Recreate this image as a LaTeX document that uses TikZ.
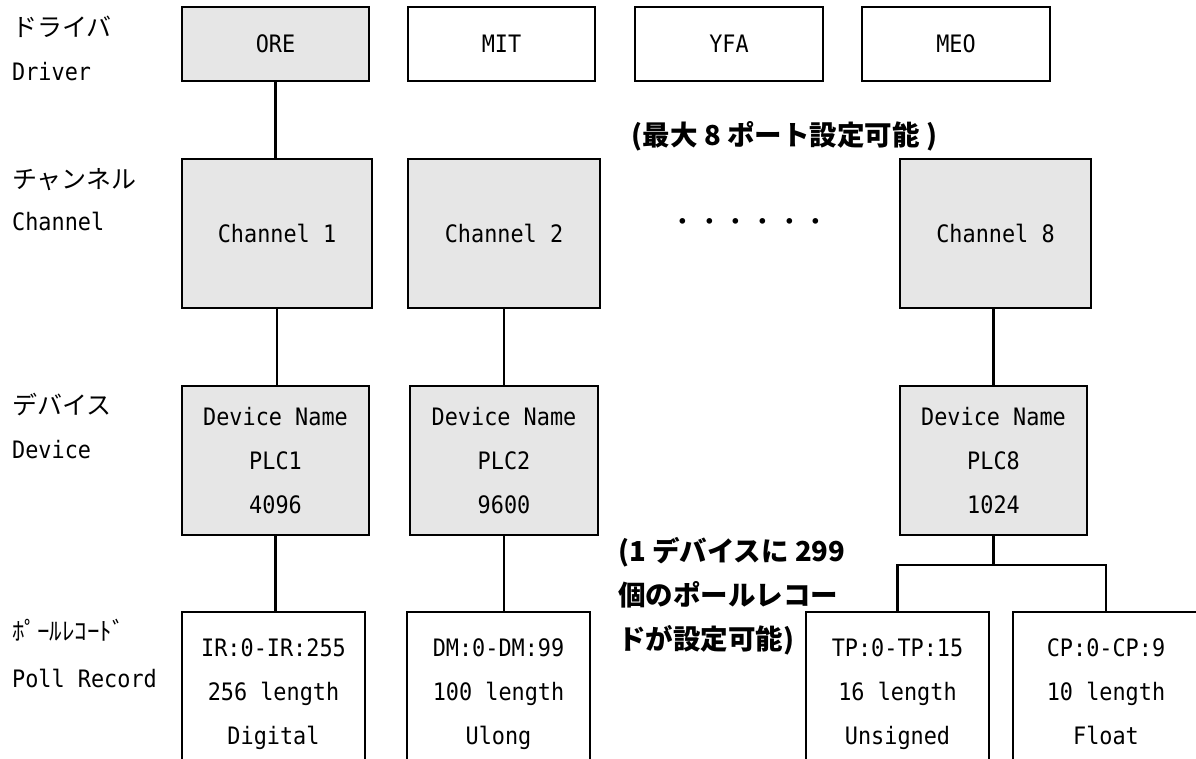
\documentclass[tikz,border=0pt]{standalone}
\usepackage{fontspec}
\newfontfamily\monofont[FakeStretch=0.91]{DejaVu Sans Mono}
\newfontfamily\jpfont{Noto Sans CJK JP}
\definecolor{boxgray}{HTML}{E6E6E6}
\tikzset{
  box/.style={draw=black, line width=2.8pt, fill=boxgray, inner sep=0pt, align=center,
    font=\monofont\fontsize{24}{44}\selectfont},
  wbox/.style={box, fill=white},
  conn/.style={draw=black, line width=2.6pt},
  jplabel/.style={anchor=west, inner sep=0pt, font=\jpfont\fontsize{25}{30}\selectfont},
  enlabel/.style={anchor=west, inner sep=0pt, font=\monofont\fontsize{24}{30}\selectfont},
  note/.style={inner sep=0pt, font=\jpfont\bfseries\fontsize{27.5}{44}\selectfont}
}
\begin{document}
\begin{tikzpicture}[x=1pt, y=-1pt]
\useasboundingbox (0,0) rectangle (1196,758);
\clip (0,0) rectangle (1196,758);
\fill[white] (0,0) rectangle (1196,758);

% row labels
\node[jplabel] (l1j) at (12,27) {ドライバ};
\node[enlabel] (l1e) at (12,72) {Driver};
\node[jplabel] (l2j) at (12,180) {チャンネル};
\node[enlabel] (l2e) at (12,221) {Channel};
\node[jplabel] (l3j) at (12,405) {デバイス};
\node[enlabel] (l3e) at (12,450) {Device};
\node[jplabel] (l4j) at (12,630) {ﾎﾟｰﾙﾚｺｰﾄﾞ};
\node[enlabel] (l4e) at (12,678) {Poll Record};

% driver row
\node[box, minimum width=187pt, minimum height=74pt] (ore) at (275.5,44) {ORE};
\node[wbox, minimum width=187pt, minimum height=74pt] (mit) at (501.5,44) {MIT};
\node[wbox, minimum width=188pt, minimum height=74pt] (yfa) at (729,44) {YFA};
\node[wbox, minimum width=188pt, minimum height=74pt] (meo) at (956,44) {MEO};

% channel row
\node[box, minimum width=190pt, minimum height=149pt] (ch1) at (277,233.5) {Channel 1};
\node[box, minimum width=192pt, minimum height=149pt] (ch2) at (504,233.5) {Channel 2};
\node[box, minimum width=191pt, minimum height=149pt] (ch8) at (995.5,233.5) {Channel 8};
\node[inner sep=0pt, font=\jpfont\fontsize{26.7}{30}\selectfont] (dots) at (749.5,225) {・・・・・・};

% device row
\node[box, minimum width=187pt, minimum height=149pt] (dev1) at (275.5,460.5) {\strut Device Name\\PLC1\\4096\strut};
\node[box, minimum width=188pt, minimum height=149pt] (dev2) at (504,460.5) {\strut Device Name\\PLC2\\9600\strut};
\node[box, minimum width=187pt, minimum height=149pt] (dev8) at (993.5,460.5) {\strut Device Name\\PLC8\\1024\strut};

% poll record row
\node[wbox, minimum width=183pt, minimum height=160pt] (ir) at (273.5,692) {\strut IR:0-IR:255\\256 length\\Digital\strut};
\node[wbox, minimum width=183pt, minimum height=160pt] (dm) at (498.5,692) {\strut DM:0-DM:99\\100 length\\Ulong\strut};
\node[wbox, minimum width=183pt, minimum height=160pt] (tp) at (897.5,692) {\strut TP:0-TP:15\\16 length\\Unsigned\strut};
\node[wbox, minimum width=186pt, minimum height=160pt] (cp) at (1106,692) {\strut CP:0-CP:9\\10 length\\Float\strut};

% notes
\node[note] (n1) at (784.5,136) {(最大 8 ポート設定可能 )};
\node[note, anchor=west, align=left] (n2) at (618,596) {(1 デバイスに 299\\個のポールレコー\\ドが設定可能)};

% connectors
\draw[conn] (ore.south) -- (ore.south |- ch1.north);
\draw[conn] (ch1.south) -- (ch1.south |- dev1.north);
\draw[conn] (dev1.south) -- (dev1.south |- ir.north);
\draw[conn] (ch2.south) -- (ch2.south |- dev2.north);
\draw[conn] (dev2.south) -- (dev2.south |- dm.north);
\draw[conn] (dev8.north |- ch8.south) -- (dev8.north);
\coordinate (br) at (993.5,565);
\draw[conn] (dev8.south) -- (br);
\draw[conn] (tp.north) |- (br) -| (cp.north);
\end{tikzpicture}
\end{document}
